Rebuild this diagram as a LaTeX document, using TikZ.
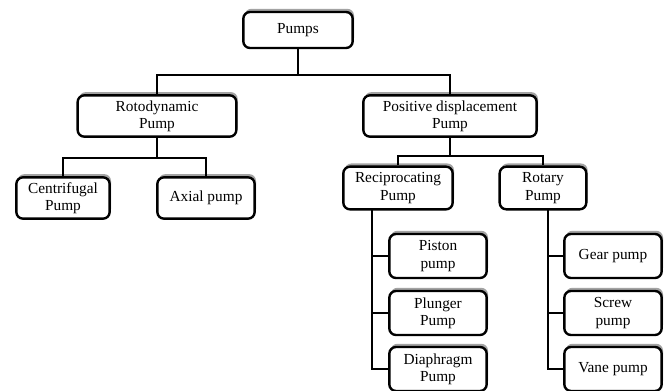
\documentclass[tikz,border=0pt]{standalone}
\usepackage{fontspec}
\setmainfont{Liberation Serif}
\usepackage{xcolor}
\usepackage{tikz}
\usetikzlibrary{shadows}

\begin{document}
\begin{tikzpicture}[x=0.75pt,y=-0.75pt,
        pump box/.style={rectangle,rounded corners=5pt,draw,line width=1.8pt,fill=white,
          align=center,inner sep=2pt,font=\fontsize{11.5}{13}\selectfont,
          drop shadow={shadow xshift=1pt,shadow yshift=2.4pt,fill=black!45,opacity=0.8}},
        link/.style={draw=black,line width=2pt}
      ]
      \useasboundingbox (0,0) rectangle (668,390);

      % top levels
      \node[pump box,minimum width=82pt,minimum height=27pt] (pumps) at (298,30) {Pumps};
      \node[pump box,minimum width=119pt,minimum height=31pt] (roto) at (157,116) {Rotodynamic\\Pump};
      \node[pump box,minimum width=130pt,minimum height=31pt] (posd) at (450,116) {Positive displacement\\Pump};

      % rotodynamic kinds
      \node[pump box,minimum width=70pt,minimum height=31pt] (centri) at (63,198) {Centrifugal\\Pump};
      \node[pump box,minimum width=73pt,minimum height=31pt] (axial) at (206,198) {Axial pump};

      % positive displacement kinds
      \node[pump box,minimum width=82pt,minimum height=32pt] (recip) at (398,188) {Reciprocating\\Pump};
      \node[pump box,minimum width=65pt,minimum height=32pt] (rotary) at (543,188) {Rotary\\Pump};

      \node[pump box,minimum width=73pt,minimum height=33pt] (piston) at (438,256) {Piston\\pump};
      \node[pump box,minimum width=73pt,minimum height=33pt] (plunger) at (438,313) {Plunger\\Pump};
      \node[pump box,minimum width=73pt,minimum height=33pt] (diaph) at (438,369) {Diaphragm\\Pump};

      \node[pump box,minimum width=73pt,minimum height=33pt] (gear) at (613,256) {Gear pump};
      \node[pump box,minimum width=73pt,minimum height=33pt] (screw) at (613,313) {Screw\\pump};
      \node[pump box,minimum width=73pt,minimum height=33pt] (vane) at (613,369) {Vane pump};

      % junctions
      \coordinate (top) at (298,75);
      \coordinate (rj) at (157,158);
      \coordinate (pj) at (450,156);
      \coordinate (rtrunk) at (372,210);
      \coordinate (ytrunk) at (548,210);

      % connectors
      \path[link] (pumps.south) -- (top);
      \path[link] (roto.north) |- (top) -| (posd.north);
      \path[link] (roto.south) -- (rj);
      \path[link] (centri.north) |- (rj) -| (axial.north);
      \path[link] (posd.south) -- (pj);
      \path[link] (recip.north) |- (pj) -| (rotary.north);
      \path[link] (rtrunk) |- (piston.west);
      \path[link] (rtrunk) |- (plunger.west);
      \path[link] (rtrunk) |- (diaph.west);
      \path[link] (ytrunk) |- (gear.west);
      \path[link] (ytrunk) |- (screw.west);
      \path[link] (ytrunk) |- (vane.west);
    \end{tikzpicture}
\end{document}
